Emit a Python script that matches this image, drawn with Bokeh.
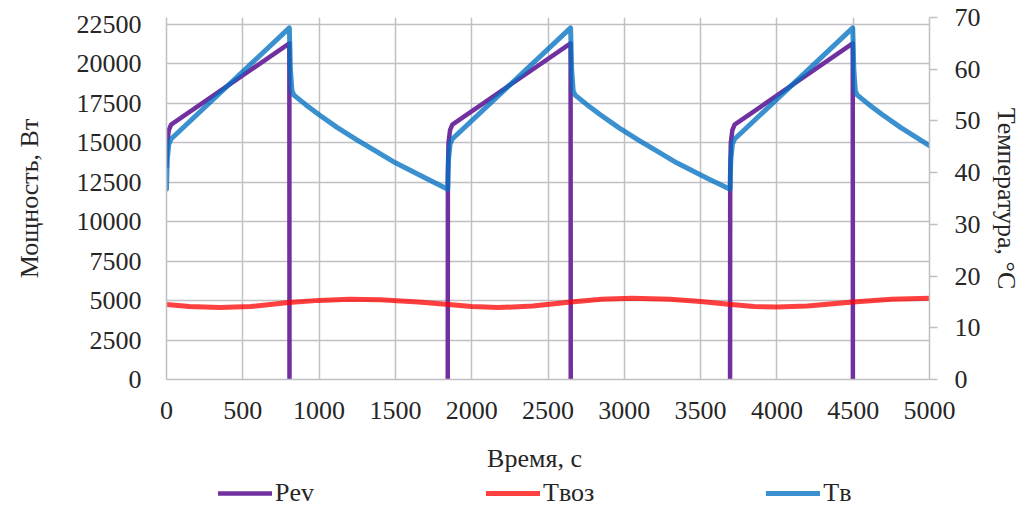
from bokeh.plotting import figure
from bokeh.layouts import column
from bokeh.models import Range1d, LinearAxis, FixedTicker, Legend, LegendItem, Label
from bokeh.embed import file_html
from bokeh.resources import INLINE

nan = float("nan")

# ---- data ----
pev_t = [0, 5, 15, 30, 805, 806, 806, 1843, 1844, 1848, 1858, 1873, 2648, 2649, 2649,
         3693, 3694, 3698, 3708, 3723, 4497, 4498]
pev_w = [13500, 15000, 15800, 16150, 21300, 0, nan, 0, 13000, 15000, 15800, 16150, 21300, 0, nan,
         0, 13000, 15000, 15800, 16150, 21300, 0]

tvoz_t = [0, 150, 350, 550, 800, 1000, 1200, 1400, 1650, 1850, 2000, 2170, 2400,
          2650, 2850, 3050, 3300, 3500, 3700, 3850, 4000, 4200, 4500, 4750, 5000]
tvoz_c = [14.5, 14.1, 13.9, 14.1, 14.9, 15.3, 15.5, 15.4, 15.0, 14.5, 14.1, 13.9, 14.2,
          15.0, 15.5, 15.7, 15.5, 15.1, 14.5, 14.1, 14.0, 14.2, 15.0, 15.5, 15.7]

tv_t = [0, 5, 15, 30, 805, 812, 822, 835, 910, 1000, 1120, 1250, 1380, 1500, 1700, 1843,
        1848, 1858, 1873, 2648, 2655, 2665, 2678, 2753, 2843, 2963, 3093, 3223, 3343, 3543, 3693,
        3698, 3708, 3723, 4497, 4504, 4514, 4527, 4602, 4692, 4812, 4942, 5000]
tv_c = [36.8, 42.5, 45.5, 46.5, 68.0, 60.0, 55.8, 55.0, 53.2, 51.2, 48.7, 46.3, 44.0, 41.9, 38.9, 36.8,
        42.5, 45.5, 46.5, 68.0, 60.0, 55.8, 55.0, 53.2, 51.2, 48.7, 46.3, 44.0, 41.9, 38.9, 36.8,
        42.5, 45.5, 46.5, 68.0, 60.0, 55.8, 55.0, 53.2, 51.2, 48.7, 46.3, 45.2]

series_names = ["Pev", "Tвоз", "Tв"]
x_ticks = [0, 500, 1000, 1500, 2000, 2500, 3000, 3500, 4000, 4500, 5000]
left_ticks = [0, 2500, 5000, 7500, 10000, 12500, 15000, 17500, 20000, 22500]
right_ticks = [0, 10, 20, 30, 40, 50, 60, 70]

FONT = "Liberation Serif"
FS = "26px"
TXT = "#262626"
GRID = "#C0C0C4"
YMAX = 22940
FW, FH = 763, 362
STY = [dict(line_color="#7030A0", line_alpha=1.0, line_width=4.5),
       dict(line_color="#FF0000", line_alpha=0.75, line_width=5),
       dict(line_color="#0070C0", line_alpha=0.77, line_width=5)]

p = figure(frame_width=FW, frame_height=FH, output_backend="svg", toolbar_location=None,
           x_range=Range1d(0, 5000), y_range=Range1d(0, YMAX),
           min_border_left=166, min_border_right=90, min_border_top=17,
           min_border_bottom=52)
p.extra_y_ranges = {"temp": Range1d(0, 70)}
p.outline_line_color = None
p.background_fill_color = "white"
p.border_fill_color = "white"

# axes
p.xaxis.ticker = FixedTicker(ticks=x_ticks)
p.yaxis.ticker = FixedTicker(ticks=left_ticks)
for ax in (p.xaxis[0], p.yaxis[0]):
    ax.major_tick_out = 0
    ax.major_tick_in = 0
    ax.minor_tick_out = 0
    ax.minor_tick_in = 0
    ax.axis_line_color = GRID
    ax.axis_line_width = 1.5
    ax.major_label_text_font = FONT
    ax.major_label_text_font_size = FS
    ax.major_label_text_color = TXT
    ax.axis_label_text_font = FONT
    ax.axis_label_text_font_size = FS
    ax.axis_label_text_font_style = "normal"
    ax.axis_label_text_color = TXT
p.yaxis.major_label_standoff = 25
p.xaxis.major_label_standoff = 22
p.yaxis.axis_label = "Мощность, Вт"
p.yaxis.axis_label_standoff = 30

rax = LinearAxis(y_range_name="temp", ticker=FixedTicker(ticks=right_ticks))
rax.major_tick_out = 8
rax.major_tick_in = 0
rax.minor_tick_out = 0
rax.minor_tick_in = 0
rax.major_tick_line_color = GRID
rax.major_tick_line_width = 1.5
rax.axis_line_color = GRID
rax.axis_line_width = 1.5
rax.major_label_text_font = FONT
rax.major_label_text_font_size = FS
rax.major_label_text_color = TXT
rax.major_label_standoff = 17
rax.axis_label = "Температура, °C"
rax.axis_label_text_font = FONT
rax.axis_label_text_font_size = FS
rax.axis_label_text_font_style = "normal"
rax.axis_label_text_color = TXT
rax.axis_label_standoff = 8
p.add_layout(rax, "right")

p.xgrid.grid_line_color = GRID
p.xgrid.grid_line_width = 1.5
p.ygrid.grid_line_color = GRID
p.ygrid.grid_line_width = 1.5

# series
p.line(pev_t, pev_w, line_join="round", line_cap="round", **STY[0])
p.line(tvoz_t, tvoz_c, y_range_name="temp", line_join="round", line_cap="round", **STY[1])
p.line(tv_t, tv_c, y_range_name="temp", line_join="round", line_cap="round", **STY[2])

# bottom strip: x-axis title and legend; its frame is aligned with the chart frame
QH = 78
q = figure(frame_width=FW, frame_height=QH, output_backend="svg", toolbar_location=None,
           x_axis_type=None, y_axis_type=None,
           x_range=Range1d(0, FW), y_range=Range1d(0, QH),
           min_border_left=166, min_border_right=90, min_border_top=0, min_border_bottom=0)
q.grid.visible = False
q.outline_line_color = None
q.background_fill_color = "white"
q.border_fill_color = "white"

q.add_layout(Label(x=368, y=QH - 27, text="Время, с", text_align="center",
                   text_baseline="middle", text_font=FONT, text_font_size=FS,
                   text_color=TXT))

items = []
for name, sty in zip(series_names, STY):
    r = q.line(x=[-20, -10], y=[-20, -10], line_join="round", line_cap="round", **sty)
    items.append(LegendItem(label=name, renderers=[r]))
legend = Legend(items=items, orientation="horizontal", location=(52, 1), spacing=172,
                glyph_width=54, glyph_height=24, label_standoff=3,
                label_text_font=FONT, label_text_font_size=FS, label_text_color=TXT,
                border_line_alpha=0, background_fill_alpha=0, padding=0, margin=0)
q.add_layout(legend, "center")

layout = column(p, q, spacing=0)
open("out.html", "w").write(file_html(layout, INLINE))
